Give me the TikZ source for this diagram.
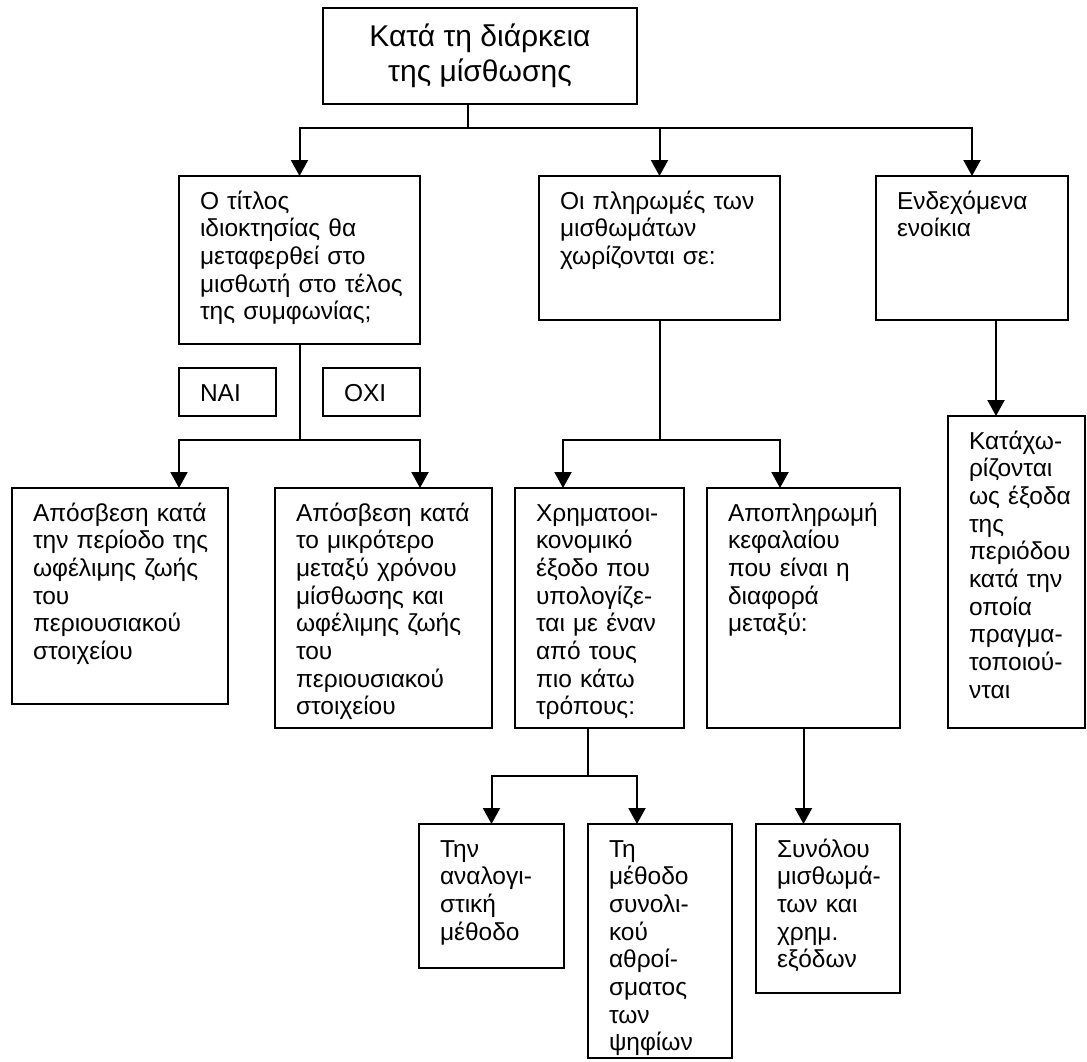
\documentclass[tikz,border=0pt]{standalone}
\usepackage{fontspec}
\setmainfont{Liberation Sans}
\usepackage{tikz}
\usetikzlibrary{arrows.meta,positioning}
\tikzset{
    leasetop/.style={draw, line width=2pt, outer sep=0pt, align=center, font=\fontsize{30}{35}\selectfont, minimum width=314pt, minimum height=96pt, inner sep=0pt},
    leasebox/.style={draw, line width=2pt, outer sep=0pt, anchor=north west, align=left, inner xsep=0pt, inner ysep=0pt, text height=33pt, font=\fontsize{24.5}{27.7}\selectfont, execute at begin node={\leftskip=21pt}},
    leaseline/.style={line width=2pt},
    leasearrow/.style={-{Triangle[width=17pt,length=16pt]}, line width=2pt}
}
\begin{document}
\begin{tikzpicture}[x=1pt, y=-1pt]
    \useasboundingbox (0,0) rectangle (1087,1061);
    \node[leasetop] (top) at (480,56) {Κατά τη διάρκεια\\της μίσθωσης};

    \node[leasebox, text width=241pt, text depth=135pt] (asset) at (179,176) {Ο τίτλος\\ιδιοκτησίας θα\\μεταφερθεί στο\\μισθωτή στο τέλος\\της συμφωνίας;};
    \node[leasebox, text width=97pt, text depth=15pt] (yes) at (179,368) {NAI};
    \node[leasebox, text width=97pt, text depth=15pt] (no) at (323,368) {OXI};
    \node[leasebox, text width=241pt, text depth=111pt] (pay) at (539,176) {Οι πληρωμές των\\μισθωμάτων\\χωρίζονται σε:};
    \node[leasebox, text width=192pt, text depth=111pt] (cont) at (876,176) {Ενδεχόμενα\\ενοίκια};

    \node[leasebox, text width=216pt, text depth=183pt] (life) at (12,488) {Απόσβεση κατά\\την περίοδο της\\ωφέλιμης ζωής\\του\\περιουσιακού\\στοιχείου};
    \node[leasebox, text width=217pt, text depth=207pt] (shorter) at (275,488) {Απόσβεση κατά\\το μικρότερο\\μεταξύ χρόνου\\μίσθωσης και\\ωφέλιμης ζωής\\του\\περιουσιακού\\στοιχείου};
    \node[leasebox, text width=169pt, text depth=207pt] (fin) at (515,488) {Χρηματοοι-\\κονομικό\\έξοδο που\\υπολογίζε-\\ται με έναν\\από τους\\πιο κάτω\\τρόπους:};
    \node[leasebox, text width=193pt, text depth=207pt] (principal) at (707,488) {Αποπληρωμή\\κεφαλαίου\\που είναι η\\διαφορά\\μεταξύ:};
    \node[leasebox, text width=137pt, text depth=279pt] (expense) at (948,416) {Κατάχω-\\ρίζονται\\ως έξοδα\\της\\περιόδου\\κατά την\\οποία\\πραγμα-\\τοποιού-\\νται};

    \node[leasebox, text width=145pt, text depth=111pt] (actu) at (419,824) {Την\\αναλογι-\\στική\\μέθοδο};
    \node[leasebox, text width=144pt, text depth=201pt] (digits) at (588,824) {Τη\\μέθοδο\\συνολι-\\κού\\αθροί-\\σματος\\των\\ψηφίων};
    \node[leasebox, text width=144pt, text depth=136pt] (total) at (756,824) {Συνόλου\\μισθωμά-\\των και\\χρημ.\\εξόδων};

    % forks
    \coordinate (topfork) at (468,128);
    \coordinate (assetfork) at (300,440);
    \coordinate (payfork) at (660,440);
    \coordinate (finfork) at (588,776);
    \coordinate (contdrop) at (996,320);

    \draw[leaseline] (top.south -| topfork) -- (topfork);
    \foreach \b in {asset,pay,cont}
        \draw[leasearrow] (topfork) -| (\b.north);

    \draw[leaseline] (asset.south -| assetfork) -- (assetfork);
    \draw[leasearrow] (assetfork) -| (life.north -| asset.west);
    \draw[leasearrow] (assetfork) -| (shorter.north -| asset.east);

    \draw[leaseline] (pay.south -| payfork) -- (payfork);
    \draw[leasearrow] (payfork) -| ([xshift=48pt]fin.north west);
    \draw[leasearrow] (payfork) -| (principal.north -| pay.east);

    \draw[leasearrow] (cont.south -| contdrop) -- (expense.north -| contdrop);

    \draw[leaseline] (fin.south -| finfork) -- (finfork);
    \draw[leasearrow] (finfork) -| (actu.north);
    \draw[leasearrow] (finfork) -| ([xshift=49pt]digits.north west);

    \draw[leasearrow] (principal.south) -- (principal.south |- total.north);
\end{tikzpicture}
\end{document}
